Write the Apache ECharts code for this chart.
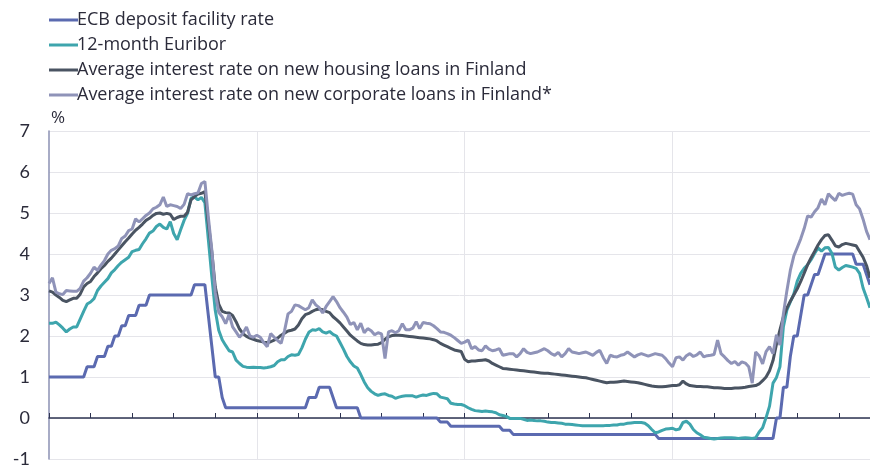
<!DOCTYPE html>
<html>
<head>
<meta charset="utf-8">
<script src="https://cdn.jsdelivr.net/npm/echarts@6/dist/echarts.min.js"></script>
<style>
  html, body { margin: 0; padding: 0; background: #fff; }
  #chart { width: 870px; height: 473px; }
</style>
</head>
<body>
<div id="chart"></div>
<script>
// monthly data, Jan 2005 .. Oct 2024
var startYear = 2005
var monthCount = 238

var depositRate = [
  1, 1, 1, 1, 1, 1, 1, 1, 1, 1, 1, 1.25,
  1.25, 1.25, 1.5, 1.5, 1.5, 1.75, 1.75, 2, 2, 2.25, 2.25, 2.5,
  2.5, 2.5, 2.75, 2.75, 2.75, 3, 3, 3, 3, 3, 3, 3,
  3, 3, 3, 3, 3, 3, 3.25, 3.25, 3.25, 3.25, 2.5, 1.75,
  1, 1, 0.5, 0.25, 0.25, 0.25, 0.25, 0.25, 0.25, 0.25, 0.25, 0.25,
  0.25, 0.25, 0.25, 0.25, 0.25, 0.25, 0.25, 0.25, 0.25, 0.25, 0.25, 0.25,
  0.25, 0.25, 0.25, 0.5, 0.5, 0.5, 0.75, 0.75, 0.75, 0.75, 0.5, 0.25,
  0.25, 0.25, 0.25, 0.25, 0.25, 0.25, 0, 0, 0, 0, 0, 0,
  0, 0, 0, 0, 0, 0, 0, 0, 0, 0, 0, 0,
  0, 0, 0, 0, 0, -0.1, -0.1, -0.1, -0.2, -0.2, -0.2, -0.2,
  -0.2, -0.2, -0.2, -0.2, -0.2, -0.2, -0.2, -0.2, -0.2, -0.2, -0.2, -0.3,
  -0.3, -0.3, -0.4, -0.4, -0.4, -0.4, -0.4, -0.4, -0.4, -0.4, -0.4, -0.4,
  -0.4, -0.4, -0.4, -0.4, -0.4, -0.4, -0.4, -0.4, -0.4, -0.4, -0.4, -0.4,
  -0.4, -0.4, -0.4, -0.4, -0.4, -0.4, -0.4, -0.4, -0.4, -0.4, -0.4, -0.4,
  -0.4, -0.4, -0.4, -0.4, -0.4, -0.4, -0.4, -0.4, -0.5, -0.5, -0.5, -0.5,
  -0.5, -0.5, -0.5, -0.5, -0.5, -0.5, -0.5, -0.5, -0.5, -0.5, -0.5, -0.5,
  -0.5, -0.5, -0.5, -0.5, -0.5, -0.5, -0.5, -0.5, -0.5, -0.5, -0.5, -0.5,
  -0.5, -0.5, -0.5, -0.5, -0.5, -0.5, 0, 0, 0.75, 0.75, 1.5, 2,
  2, 2.5, 3, 3, 3.25, 3.5, 3.5, 3.75, 4, 4, 4, 4,
  4, 4, 4, 4, 4, 3.75, 3.75, 3.75, 3.5, 3.25
]

var euribor12m = [
  2.31, 2.31, 2.34, 2.27, 2.19, 2.10, 2.17, 2.22, 2.22, 2.41, 2.60, 2.78,
  2.83, 2.91, 3.11, 3.22, 3.31, 3.40, 3.54, 3.62, 3.72, 3.80, 3.86, 3.92,
  4.06, 4.09, 4.11, 4.25, 4.37, 4.51, 4.56, 4.67, 4.73, 4.65, 4.61, 4.79,
  4.50, 4.35, 4.59, 4.82, 4.99, 5.36, 5.39, 5.32, 5.38, 5.25, 4.35, 3.45,
  2.62, 2.14, 1.91, 1.77, 1.64, 1.61, 1.41, 1.33, 1.26, 1.24, 1.23, 1.24,
  1.23, 1.23, 1.22, 1.23, 1.25, 1.28, 1.37, 1.42, 1.42, 1.50, 1.54, 1.53,
  1.55, 1.71, 1.92, 2.09, 2.15, 2.14, 2.18, 2.10, 2.07, 2.11, 2.04, 2.00,
  1.84, 1.68, 1.50, 1.37, 1.27, 1.22, 1.06, 0.88, 0.74, 0.65, 0.59, 0.55,
  0.58, 0.59, 0.55, 0.53, 0.48, 0.51, 0.53, 0.54, 0.54, 0.54, 0.51, 0.54,
  0.56, 0.55, 0.58, 0.60, 0.59, 0.51, 0.49, 0.47, 0.36, 0.34, 0.33, 0.33,
  0.30, 0.25, 0.21, 0.18, 0.17, 0.16, 0.17, 0.16, 0.15, 0.13, 0.08, 0.06,
  0.04, -0.01, -0.01, -0.01, -0.01, -0.03, -0.06, -0.05, -0.06, -0.07, -0.07, -0.08,
  -0.10, -0.11, -0.11, -0.12, -0.13, -0.15, -0.15, -0.16, -0.17, -0.18, -0.19, -0.19,
  -0.19, -0.19, -0.19, -0.19, -0.19, -0.18, -0.18, -0.17, -0.17, -0.15, -0.15, -0.13,
  -0.12, -0.11, -0.11, -0.11, -0.13, -0.19, -0.28, -0.36, -0.34, -0.30, -0.27, -0.26,
  -0.25, -0.29, -0.27, -0.11, -0.08, -0.15, -0.28, -0.36, -0.41, -0.47, -0.48, -0.50,
  -0.51, -0.50, -0.49, -0.48, -0.48, -0.48, -0.49, -0.50, -0.49, -0.48, -0.49, -0.50,
  -0.48, -0.34, -0.24, 0.01, 0.29, 0.85, 0.99, 1.25, 2.23, 2.63, 2.83, 3.02,
  3.34, 3.53, 3.65, 3.74, 3.86, 4.01, 4.15, 4.07, 4.15, 4.16, 4.02, 3.68,
  3.61, 3.67, 3.72, 3.70, 3.68, 3.65, 3.53, 3.17, 2.94, 2.69
]

var housingLoans = [
  3.10, 3.07, 3.00, 2.94, 2.87, 2.84, 2.88, 2.92, 2.92, 3.02, 3.20, 3.28,
  3.33, 3.45, 3.54, 3.64, 3.72, 3.82, 3.90, 4.00, 4.10, 4.20, 4.30, 4.39,
  4.49, 4.58, 4.65, 4.73, 4.82, 4.87, 4.94, 4.99, 5.00, 4.97, 4.99, 4.97,
  4.84, 4.89, 4.92, 4.92, 5.02, 5.32, 5.40, 5.46, 5.48, 5.52, 4.75, 4.05,
  3.20, 2.78, 2.60, 2.57, 2.56, 2.50, 2.35, 2.17, 2.06, 1.99, 1.95, 1.92,
  1.89, 1.87, 1.85, 1.84, 1.86, 1.90, 1.95, 2.02, 2.07, 2.12, 2.14, 2.17,
  2.27, 2.42, 2.52, 2.55, 2.60, 2.64, 2.66, 2.64, 2.60, 2.57, 2.47, 2.40,
  2.32, 2.22, 2.12, 2.02, 1.95, 1.88, 1.82, 1.79, 1.78, 1.78, 1.79, 1.80,
  1.84, 1.92, 1.98, 2.01, 2.02, 2.02, 2.01, 2.00, 1.99, 1.98, 1.97, 1.96,
  1.95, 1.94, 1.93, 1.91, 1.88, 1.82, 1.78, 1.74, 1.70, 1.66, 1.64, 1.62,
  1.43, 1.37, 1.39, 1.39, 1.40, 1.41, 1.42, 1.39, 1.33, 1.29, 1.25, 1.21,
  1.20, 1.19, 1.18, 1.17, 1.16, 1.15, 1.14, 1.13, 1.12, 1.11, 1.10, 1.09,
  1.09, 1.08, 1.07, 1.06, 1.05, 1.04, 1.03, 1.02, 1.01, 1.00, 0.99, 0.98,
  0.96, 0.94, 0.92, 0.90, 0.88, 0.86, 0.87, 0.87, 0.88, 0.89, 0.90, 0.89,
  0.88, 0.87, 0.86, 0.84, 0.82, 0.80, 0.78, 0.77, 0.76, 0.76, 0.77, 0.78,
  0.79, 0.79, 0.81, 0.90, 0.83, 0.79, 0.78, 0.77, 0.77, 0.76, 0.76, 0.75,
  0.74, 0.74, 0.73, 0.72, 0.72, 0.72, 0.73, 0.73, 0.74, 0.75, 0.77, 0.78,
  0.79, 0.83, 0.91, 1.00, 1.15, 1.40, 1.80, 2.15, 2.47, 2.68, 2.85, 3.00,
  3.15, 3.33, 3.53, 3.74, 3.91, 4.06, 4.22, 4.35, 4.45, 4.47, 4.34, 4.20,
  4.17, 4.23, 4.26, 4.24, 4.22, 4.20, 4.06, 3.92, 3.72, 3.42
]

var corporateLoans = [
  3.28, 3.42, 3.07, 3.03, 3.01, 3.11, 3.10, 3.09, 3.09, 3.16, 3.34, 3.42,
  3.53, 3.68, 3.60, 3.73, 3.84, 4.00, 4.09, 4.13, 4.20, 4.38, 4.44, 4.57,
  4.61, 4.86, 4.78, 4.86, 4.94, 5.00, 5.10, 5.14, 5.20, 5.39, 5.16, 5.20,
  5.18, 5.16, 5.11, 5.21, 5.47, 5.44, 5.47, 5.49, 5.72, 5.77, 4.90, 4.10,
  3.05, 2.58, 2.47, 2.30, 2.53, 2.22, 2.10, 1.97, 2.07, 2.22, 2.00, 1.97,
  2.02, 1.97, 1.84, 1.74, 2.06, 1.97, 1.89, 1.82, 2.13, 2.54, 2.60, 2.76,
  2.74, 2.69, 2.64, 2.69, 2.88, 2.76, 2.69, 2.56, 2.72, 2.84, 2.96, 2.84,
  2.69, 2.58, 2.46, 2.28, 2.33, 2.15, 2.31, 2.08, 2.18, 2.13, 2.03, 2.08,
  2.05, 1.45, 2.10, 2.13, 2.08, 2.13, 2.30, 2.15, 2.15, 2.19, 2.35, 2.18,
  2.33, 2.31, 2.30, 2.25, 2.18, 2.10, 2.09, 2.06, 2.02, 1.96, 1.89, 1.82,
  1.85, 1.90, 1.69, 1.74, 1.66, 1.64, 1.76, 1.68, 1.64, 1.66, 1.69, 1.53,
  1.55, 1.57, 1.57, 1.49, 1.57, 1.69, 1.60, 1.57, 1.59, 1.61, 1.65, 1.69,
  1.64, 1.57, 1.53, 1.60, 1.49, 1.57, 1.69, 1.61, 1.59, 1.57, 1.59, 1.61,
  1.57, 1.53, 1.60, 1.65, 1.47, 1.33, 1.53, 1.50, 1.49, 1.53, 1.55, 1.61,
  1.55, 1.49, 1.54, 1.57, 1.54, 1.51, 1.54, 1.57, 1.55, 1.53, 1.45, 1.34,
  1.25, 1.47, 1.49, 1.41, 1.52, 1.57, 1.50, 1.54, 1.61, 1.49, 1.52, 1.53,
  1.55, 1.90, 1.57, 1.49, 1.40, 1.33, 1.38, 1.29, 1.37, 1.34, 1.25, 0.85,
  1.61, 1.52, 1.32, 1.62, 1.74, 1.57, 2.03, 1.78, 2.54, 3.10, 3.60, 3.95,
  4.16, 4.37, 4.62, 4.93, 4.90, 5.03, 5.13, 5.34, 5.20, 5.47, 5.38, 5.30,
  5.48, 5.43, 5.46, 5.48, 5.46, 5.20, 5.10, 4.85, 4.55, 4.35
]

var seriesNames = [
  'ECB deposit facility rate',
  '12-month Euribor',
  'Average interest rate on new housing loans in Finland',
  'Average interest rate on new corporate loans in Finland*'
]
var seriesColors = ['#5b6ab0', '#3ea5ad', '#4a5462', '#8f93b8']

var months = []
for (var i = 0; i < monthCount; i++) {
  var y = startYear + Math.floor(i / 12)
  var m = (i % 12) + 1
  months.push(y + '-' + (m < 10 ? '0' + m : m))
}

var font = '"Open Sans", Lato, sans-serif'

function lineSeries (idx, data) {
  return {
    name: seriesNames[idx],
    type: 'line',
    data: data,
    showSymbol: false,
    symbol: 'none',
    smooth: false,
    lineStyle: { width: 3, color: seriesColors[idx] },
    itemStyle: { color: seriesColors[idx] }
  }
}

var chart = echarts.init(document.getElementById('chart'))
chart.setOption({
  animation: false,
  textStyle: { fontFamily: font },
  legend: {
    orient: 'vertical',
    left: 44,
    top: 6,
    itemWidth: 29,
    itemHeight: 3,
    itemGap: 7,
    icon: 'rect',
    textStyle: { fontSize: 18, lineHeight: 18, color: '#2b2b3a', fontFamily: font, padding: [0, 0, 0, -6] },
    data: seriesNames
  },
  grid: {
    left: 49,
    right: 0,
    top: 131,
    bottom: 14,
    containLabel: false
  },
  xAxis: {
    type: 'category',
    data: months,
    boundaryGap: false,
    axisLine: { onZero: true, lineStyle: { color: '#2e3452', width: 1.5 } },
    axisTick: {
      inside: true,
      length: 5,
      lineStyle: { color: '#2e3452' },
      interval: function (index) { return index % 12 === 0 }
    },
    axisLabel: { show: false },
    splitLine: {
      show: true,
      lineStyle: { color: '#e5e5ea', width: 1 },
      interval: function (index) { return index % 60 === 0 && index > 0 }
    }
  },
  yAxis: {
    type: 'value',
    min: -1,
    max: 7,
    interval: 1,
    name: '%',
    nameLocation: 'end',
    nameGap: 4,
    nameTextStyle: { fontSize: 17, color: '#2b2b3a', align: 'left', padding: [0, 0, 0, 2] },
    axisLine: { show: true, lineStyle: { color: '#8b90b3', width: 1.5 } },
    axisTick: { show: false },
    axisLabel: { fontSize: 18, color: '#2b2b3a', margin: 19, fontFamily: 'Lato, sans-serif' },
    splitLine: { lineStyle: { color: '#e5e5ea', width: 1 } }
  },
  series: [
    lineSeries(0, depositRate),
    lineSeries(1, euribor12m),
    lineSeries(2, housingLoans),
    lineSeries(3, corporateLoans)
  ]
})
</script>
</body>
</html>
